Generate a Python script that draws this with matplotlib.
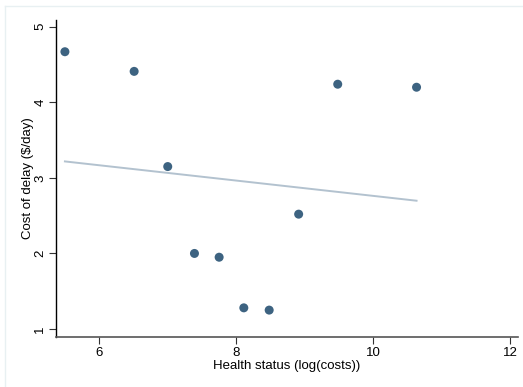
import matplotlib.pyplot as plt
import numpy as np
from matplotlib.lines import Line2D

plt.rcParams['font.family'] = ['Liberation Sans', 'DejaVu Sans']

# health status (log costs) vs cost of delay
health = [5.50, 6.51, 7.00, 7.39, 7.75, 8.11, 8.48, 8.91, 9.48, 10.63]
cost = [4.67, 4.41, 3.15, 2.00, 1.95, 1.28, 1.25, 2.52, 4.24, 4.20]
xticks = [6, 8, 10, 12]
yticks = [1, 2, 3, 4, 5]

fig = plt.figure(figsize=(5.23, 3.87), dpi=100)
ax = fig.add_axes([56 / 523, 50 / 387, 462 / 523, 317 / 387])

# linear fit over the data range
slope, icpt = np.polyfit(health, cost, 1)
xs = np.array([min(health), max(health)])
ax.plot(xs, icpt + slope * xs, color='#b3c2cf', lw=1.4, zorder=2)
ax.scatter(health, cost, s=42, color='#3d6381', edgecolors='none', zorder=3)

ax.set_xlim(5.37, 12.11)
ax.set_ylim(0.894, 5.09)
ax.set_xticks(xticks)
ax.set_yticks(yticks)
ax.tick_params(labelsize=9.5, length=5, width=0.8, color='#333333', pad=2)
ax.tick_params(axis='y', labelrotation=90)
for lab in ax.get_yticklabels():
    lab.set_va('center')

for s in ['top', 'right']:
    ax.spines[s].set_visible(False)
ax.spines['left'].set_color('black')
ax.spines['bottom'].set_color('#555555')
ax.spines['left'].set_linewidth(1.0)
ax.spines['bottom'].set_linewidth(1.2)

ax.set_xlabel('Health status (log(costs))', fontsize=9.5, labelpad=1)
ax.set_ylabel('Cost of delay ($/day)', fontsize=9.5, labelpad=0)

# faint outer graph-region border
fig.add_artist(Line2D([5 / 523, 5 / 523], [0, 1 - 6 / 387], color='#e8f0f2', lw=1))
fig.add_artist(Line2D([5 / 523, 1], [1 - 6 / 387, 1 - 6 / 387], color='#e8f0f2', lw=1))

fig.savefig('out.png', dpi=100)
